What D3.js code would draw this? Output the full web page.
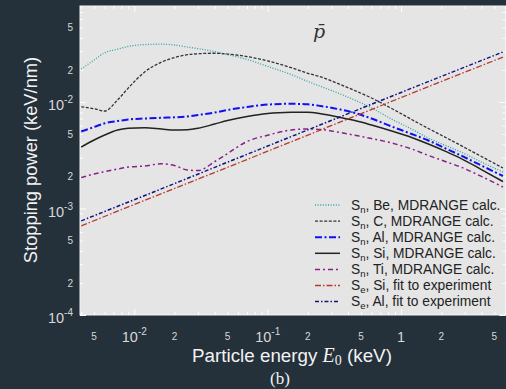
<!DOCTYPE html>
<html>
<head>
<meta charset="utf-8">
<script src="https://cdn.jsdelivr.net/npm/d3@7"></script>
<style>
html, body { margin: 0; padding: 0; background: #24303a; }
svg { display: block; font-family: "Liberation Sans", Arial, sans-serif; }
</style>
</head>
<body>
<div id="chart"></div>
<script>
// energies (keV) where the MDRANGE curves were read
const energy = [0.004, 0.005, 0.006, 0.0075, 0.009, 0.012, 0.016, 0.02, 0.025, 0.03, 0.04, 0.05, 0.07, 0.1,
    0.15, 0.2, 0.25, 0.35, 0.45, 0.6, 0.85, 1.2, 1.6, 2.2, 2.8, 4, 5.8];

// nuclear stopping (keV/nm)
const snBe = [0.0204, 0.0248, 0.0290, 0.0313, 0.0332, 0.0346, 0.0349, 0.0343, 0.0328, 0.0317, 0.0297, 0.0279, 0.0251, 0.0216,
    0.0181, 0.0156, 0.0140, 0.0119, 0.0104, 0.0088, 0.0069, 0.00557, 0.00459, 0.00386, 0.00340, 0.00273, 0.00220];
const snC = [0.00902, 0.00863, 0.00823, 0.01046, 0.0135, 0.0192, 0.0237, 0.0261, 0.0278, 0.0284, 0.0287, 0.0282, 0.0267, 0.0243,
    0.0210, 0.0186, 0.0172, 0.0146, 0.0128, 0.0109, 0.00869, 0.00685, 0.00564, 0.00459, 0.00391, 0.00308, 0.00240];
const snAl = [0.00528, 0.00583, 0.00631, 0.00663, 0.00685, 0.00700, 0.00711, 0.00718, 0.00731, 0.00755, 0.00797, 0.00841, 0.00898, 0.00947,
    0.00962, 0.00951, 0.00917, 0.00850, 0.00788, 0.00700, 0.00589, 0.00501, 0.00435, 0.00362, 0.00315, 0.00253, 0.00202];
const snSi = [0.00378, 0.00440, 0.00490, 0.00546, 0.00566, 0.00574, 0.00558, 0.00546, 0.00549, 0.00566, 0.00621, 0.00670, 0.00731, 0.00780,
    0.00800, 0.00802, 0.00775, 0.00715, 0.00670, 0.00608, 0.00534, 0.00464, 0.00403, 0.00340, 0.00296, 0.00232, 0.00179];
const snTi = [0.00195, 0.00211, 0.00222, 0.00235, 0.00245, 0.00251, 0.00263, 0.00253, 0.00230, 0.00227, 0.00275, 0.00328, 0.00426, 0.00488,
    0.00546, 0.00558, 0.00552, 0.00517, 0.00487, 0.00454, 0.00412, 0.00362, 0.00315, 0.00273, 0.00245, 0.00200, 0.00159];

// electronic stopping fits
const fitEnergy = [0.004, 0.01, 0.1, 1, 5.8];
const seSi = [0.000688, 0.00109, 0.00345, 0.0110, 0.0264];
const seAl = [0.000766, 0.00121, 0.00386, 0.0123, 0.0295];

// legend text: symbol, subscript, rest
const legendSub = ["n", "n", "n", "n", "n", "e", "e"];
const legendText = [", Be, MDRANGE calc.", ", C, MDRANGE calc.", ", Al, MDRANGE calc.", ", Si, MDRANGE calc.",
    ", Ti, MDRANGE calc.", ", Si, fit to experiment", ", Al, fit to experiment"];

// tick labels
const xTickVals = [0.005, 0.01, 0.02, 0.05, 0.1, 0.2, 0.5, 1, 2, 5];
const xTickBase = ["5", "10", "2", "5", "10", "2", "5", "1", "2", "5"];
const xTickExp = ["", "-2", "", "", "-1", "", "", "", "", ""];
const yTickVals = [0.05, 0.02, 0.01, 0.005, 0.002, 0.001, 0.0005, 0.0002, 0.0001];
const yTickBase = ["5", "2", "10", "5", "2", "10", "5", "2", "10"];
const yTickExp = ["", "", "-2", "", "", "-3", "", "", "-4"];

const width = 506, height = 389;
const plot = { left: 80, right: 505.5, top: 6, bottom: 315 };

const svg = d3.select("#chart").append("svg")
    .attr("width", width)
    .attr("height", height);

svg.append("rect")
    .attr("width", width).attr("height", height)
    .attr("fill", "#24303a");

const x = d3.scaleLog().domain([0.003917, 6.06]).range([plot.left, plot.right]);
const y = d3.scaleLog().domain([1e-4, 0.0797]).range([plot.bottom, plot.top]);

svg.append("rect")
    .attr("x", plot.left).attr("y", plot.top)
    .attr("width", plot.right - plot.left).attr("height", plot.bottom - plot.top)
    .attr("fill", "#e5e5e5")
    .attr("stroke", "#f4f4f4")
    .attr("stroke-width", 1);

svg.append("clipPath").attr("id", "clip")
    .append("rect")
    .attr("x", plot.left).attr("y", plot.top)
    .attr("width", plot.right - plot.left).attr("height", plot.bottom - plot.top);

// ticks (inward, white, all four sides)
function logTicks(scale) {
    const [a, b] = scale.domain();
    const major = [], minor = [];
    for (let e = -5; e <= 1; e++) {
        for (let m = 1; m <= 9; m++) {
            const v = m * Math.pow(10, e);
            if (v < a || v > b) continue;
            (m === 1 ? major : minor).push(v);
        }
    }
    return { major, minor };
}
const xt = logTicks(x), yt = logTicks(y);

function tickAxis(axisFn, scale, vals, size, tx, ty) {
    const g = svg.append("g")
        .attr("transform", `translate(${tx},${ty})`)
        .call(axisFn(scale).tickValues(vals).tickSize(size).tickFormat(""));
    g.select(".domain").remove();
    g.selectAll(".tick line").attr("stroke", "#ffffff").attr("stroke-width", 1);
}
tickAxis(d3.axisBottom, x, xt.major, -6, 0, plot.bottom);
tickAxis(d3.axisBottom, x, xt.minor, -3, 0, plot.bottom);
tickAxis(d3.axisTop, x, xt.major, -6, 0, plot.top);
tickAxis(d3.axisTop, x, xt.minor, -3, 0, plot.top);
tickAxis(d3.axisLeft, y, yt.major, -6, plot.left, 0);
tickAxis(d3.axisLeft, y, yt.minor, -3, plot.left, 0);
tickAxis(d3.axisRight, y, yt.major, -6, plot.right, 0);
tickAxis(d3.axisRight, y, yt.minor, -3, plot.right, 0);

// tick labels
const labelColor = "#d8d8d8";
xTickVals.forEach((v, i) => {
    const big = xTickBase[i] !== "5" && xTickBase[i] !== "2";
    const t = svg.append("text")
        .attr("x", x(v))
        .attr("y", big ? 341.5 : 340.3)
        .attr("text-anchor", "middle")
        .attr("fill", labelColor)
        .style("font-size", big ? "14.5px" : "10px");
    t.append("tspan").text(xTickBase[i]);
    if (xTickExp[i]) {
        t.append("tspan").attr("dy", -7).style("font-size", "10px").text(xTickExp[i]);
    }
});
yTickVals.forEach((v, i) => {
    const big = yTickExp[i] !== "";
    const t = svg.append("text")
        .attr("x", 73)
        .attr("y", y(v) + (big ? 8 : 3.6))
        .attr("text-anchor", "end")
        .attr("fill", labelColor)
        .style("font-size", big ? "14.5px" : "10px");
    t.append("tspan").text(yTickBase[i]);
    if (big) {
        t.append("tspan").attr("dy", -7).style("font-size", "10px").text(yTickExp[i]);
    }
});

// axis titles
const serif = "'Liberation Serif', 'DejaVu Serif', serif";
const xTitle = svg.append("text")
    .attr("x", 292)
    .attr("y", 361.5)
    .attr("text-anchor", "middle")
    .attr("fill", "#f2f2f2")
    .style("font-size", "18.8px");
xTitle.append("tspan").text("Particle energy ");
xTitle.append("tspan").style("font-family", serif)
    .style("font-style", "italic").style("font-size", "20px").text("E");
xTitle.append("tspan").style("font-family", serif)
    .style("font-size", "14px").attr("dy", 3).text("0");
xTitle.append("tspan").attr("dy", -3).text(" (keV)");

svg.append("text")
    .attr("transform", `translate(36.5,160) rotate(-90)`)
    .attr("text-anchor", "middle")
    .attr("fill", "#f2f2f2")
    .style("font-size", "18.3px")
    .text("Stopping power (keV/nm)");

svg.append("text")
    .attr("x", 280).attr("y", 384)
    .attr("text-anchor", "middle")
    .attr("fill", "#f2f2f2")
    .style("font-family", serif)
    .style("font-size", "17px")
    .text("(b)");

// series
const series = [
    { xs: energy, ys: snBe, color: "#2fa3a3", dash: "1,1.6", w: 1.3 },
    { xs: energy, ys: snC, color: "#333333", dash: "3,1.6", w: 1.3 },
    { xs: energy, ys: snAl, color: "#1010f0", dash: "7,2.5,2,2.5", w: 2 },
    { xs: energy, ys: snSi, color: "#222222", dash: null, w: 1.5 },
    { xs: energy, ys: snTi, color: "#8a1f8a", dash: "5,3,2,3", w: 1.5 },
    { xs: fitEnergy, ys: seSi, color: "#b83a2e", dash: "6,2,1.5,2", w: 1.3 },
    { xs: fitEnergy, ys: seAl, color: "#141480", dash: "4,2,1.5,2", w: 1.5 }
];

const line = d3.line()
    .x(d => x(d[0]))
    .y(d => y(d[1]))
    .curve(d3.curveMonotoneX);

const lines = svg.append("g").attr("clip-path", "url(#clip)");
series.forEach(s => {
    lines.append("path")
        .attr("d", line(s.xs.map((e, i) => [e, s.ys[i]])))
        .attr("fill", "none")
        .attr("stroke", s.color)
        .attr("stroke-width", s.w)
        .attr("stroke-dasharray", s.dash);
});

// pbar label
svg.append("text")
    .attr("x", 319).attr("y", 38)
    .attr("text-anchor", "middle")
    .attr("fill", "#333")
    .style("font-family", "'DejaVu Serif', 'Liberation Serif', serif")
    .style("font-style", "italic")
    .style("font-size", "19px")
    .text("p\u0304");

// legend
const legend = svg.append("g");
series.forEach((s, i) => {
    const ly = 205 + i * 16.1;
    legend.append("line")
        .attr("x1", 315).attr("x2", 340)
        .attr("y1", ly).attr("y2", ly)
        .attr("stroke", s.color)
        .attr("stroke-width", s.w)
        .attr("stroke-dasharray", s.dash);
    const t = legend.append("text")
        .attr("x", 351).attr("y", ly + 4.8)
        .attr("fill", "#222")
        .style("font-size", "13.8px");
    t.append("tspan").text("S");
    t.append("tspan").attr("dy", 3).style("font-size", "9.5px").text(legendSub[i]);
    t.append("tspan").attr("dy", -3).text(legendText[i]);
});
</script>
</body>
</html>
